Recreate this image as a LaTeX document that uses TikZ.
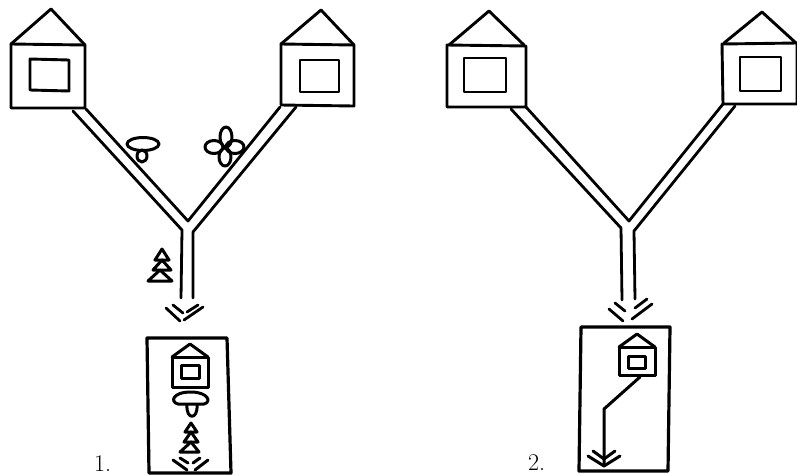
\documentclass[tikz,border=0pt]{standalone}
\begin{document}
\begin{tikzpicture}[x=1pt,y=-1pt,line join=round,line cap=round,
        wall/.style = {line width=2.9pt},
        road/.style = {line width=2.8pt},
        frame/.style = {line width=3.2pt},
        small/.style = {line width=3pt},
        nummer/.style = {font=\fontsize{24}{24}\selectfont,inner sep=0pt}]

        \useasboundingbox (0,0) rectangle (797,475);

        % House A, left pair
        \draw[wall] (11,44) -- (85,45) -- (85,108) -- (11,108) -- cycle;
        \draw[wall] (11,44) -- (51,9) -- (85,45);
        \draw[wall] (30,59) -- (69,60) -- (69,91) -- (30,90) -- cycle;

        % House B, left pair
        \draw[wall] (281,44) -- (354,45) -- (354,106) -- (281,105) -- cycle;
        \draw[wall] (281,44) -- (321,10) -- (354,45);
        \draw[wall] (300,60) -- (339,60) -- (339,92) -- (300,92) -- cycle;

        % Road, left pair
        \draw[road] (86,109) -- (188,221) -- (280,107);
        \draw[road] (73,111) -- (182,230) -- (181,298);
        \draw[road] (296,107) -- (193,232) -- (193,298);

        % Road end
        \draw[road] (166,308) -- (180,321);
        \draw[road] (173,305) -- (183,313);
        \draw[road] (184,320) -- (203,307);
        \draw[road] (187,312) -- (198,305);

        % Mushroom by the road
        \draw[small] (143,144) ellipse (16 and 6.5);
        \draw[small] (142,156) ellipse (5 and 6);

        % Flower by the road
        \draw[small] (226,137) ellipse (6 and 10);
        \draw[small] (225,157) ellipse (6 and 9);
        \draw[small] (214,147) ellipse (9 and 6.5);
        \draw[small] (235,147) ellipse (9 and 6.5);

        % Fir by the road
        \draw[small] (162,249) -- (155,260) -- (169,260) -- cycle;
        \draw[small] (162,260) -- (153,270) -- (171,270) -- cycle;
        \draw[small] (160,270) -- (148,281) -- (172,281) -- cycle;

        % Card 1
        \draw[frame] (147,338) -- (227,338) -- (231,473) -- (149,473) -- cycle;
        \draw[small] (172,357) -- (208,357) -- (208,387) -- (172,387) -- cycle;
        \draw[small] (172,357) -- (190,344) -- (208,357);
        \draw[small] (181,365) -- (199,365) -- (199,378) -- (181,378) -- cycle;
        \draw[small] (178,404) .. controls (170,402) and (172,392) .. (191,392) .. controls (208,392) and (212,402) .. (204,404) -- cycle;
        \draw[small] (187,405) .. controls (186,420) and (198,420) .. (197,405);
        \draw[small] (191,423) -- (185,432) -- (197,432) -- cycle;
        \draw[small] (191,432) -- (184,442) -- (198,442) -- cycle;
        \draw[small] (191,442) -- (180,452) -- (199,452) -- cycle;
        \draw[small] (173,460) -- (187,470);
        \draw[small] (180,458) -- (188,463);
        \draw[small] (195,470) -- (208,460);
        \draw[small] (193,463) -- (200,458);

        % Number 1
        \node[nummer,anchor=base west] (one) at (94,471) {1.};

        % House A, right pair
        \draw[wall] (447,45) -- (526,46) -- (526,107) -- (447,107) -- cycle;
        \draw[wall] (449,45) -- (489,11) -- (524,45);
        \draw[wall] (464,58) -- (506,58) -- (506,92) -- (464,92) -- cycle;

        % House B, right pair
        \draw[wall] (722,44) -- (797,43) -- (797,104) -- (723,104) -- cycle;
        \draw[wall] (724,43) -- (762,12) -- (796,43);
        \draw[wall] (740,57) -- (781,57) -- (781,91) -- (740,91) -- cycle;

        % Road, right pair
        \draw[road] (526,107) -- (629,221) -- (723,104);
        \draw[road] (511,109) -- (621,228) -- (622,300);
        \draw[road] (735,106) -- (634,231) -- (635,299);

        % Road end
        \draw[road] (609,309) -- (623,321);
        \draw[road] (615,303) -- (625,311);
        \draw[road] (632,319) -- (652,304);
        \draw[road] (635,308) -- (647,299);

        % Card 2
        \draw[frame] (581,327) -- (670,327) -- (668,471) -- (579,471) -- cycle;
        \draw[small] (619,347) -- (655,347) -- (655,375) -- (619,375) -- cycle;
        \draw[small] (619,347) -- (637,334) -- (655,347);
        \draw[small] (628,356) -- (645,356) -- (645,368) -- (628,368) -- cycle;

        % Route on card 2
        \draw[small] (640,377) -- (604,409) -- (604,465);
        \draw[small] (588,456) -- (604,466) -- (620,456);
        \draw[small] (593,451) -- (604,459) -- (615,451);

        % Number 2
        \node[nummer,anchor=base west] (two) at (528,470) {2.};
\end{tikzpicture}
\end{document}
